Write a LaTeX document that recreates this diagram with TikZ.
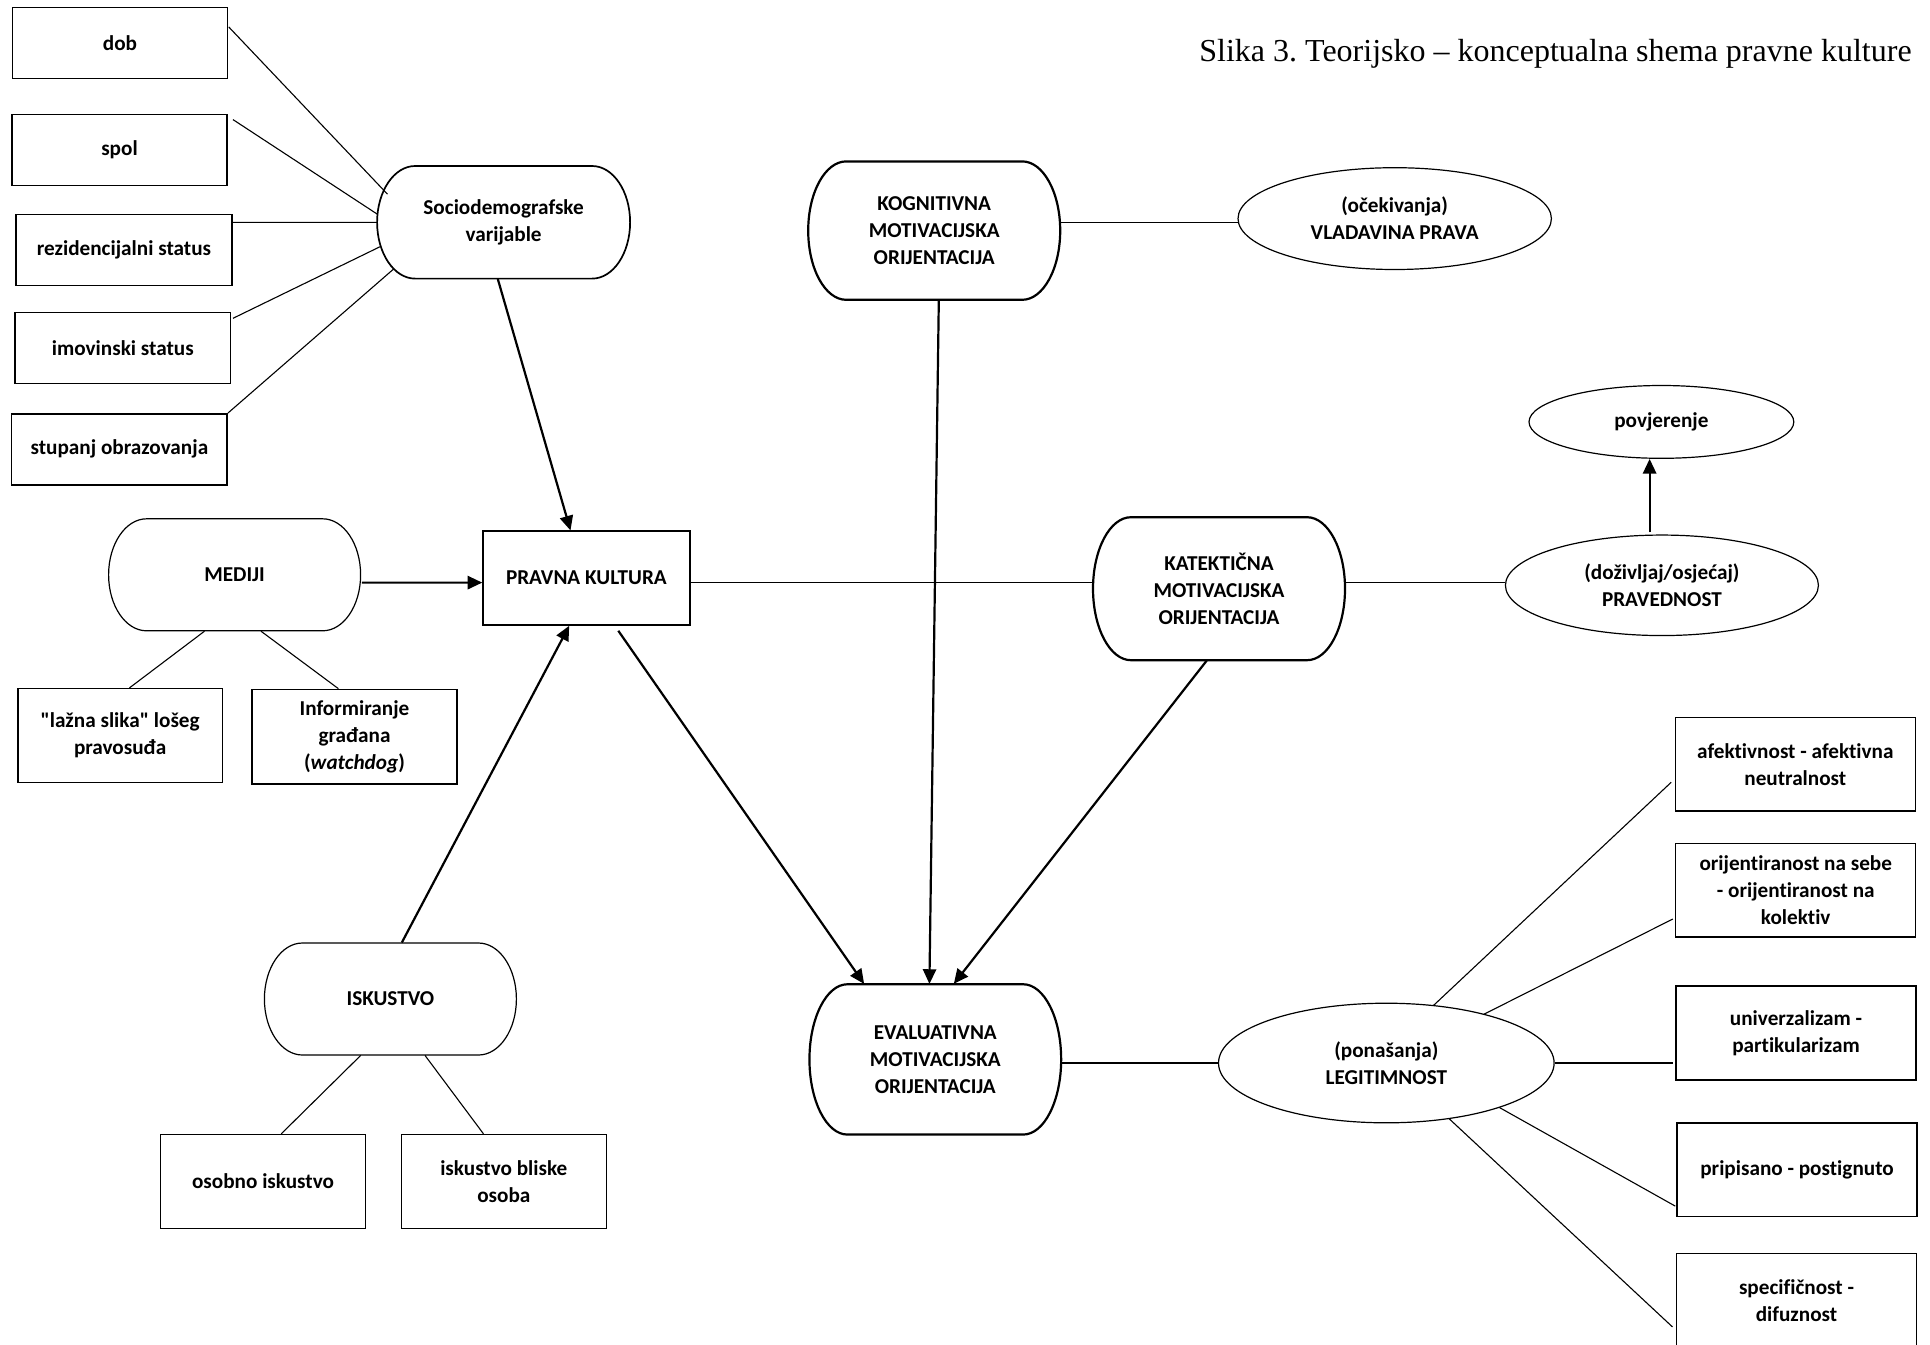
\documentclass[tikz,border=0pt]{standalone}
\usepackage{fontspec}
\setmainfont{Carlito}[Ligatures={TeXOff,CommonOff}]
\newfontfamily\titlefont{Liberation Serif}
\usetikzlibrary{calc,arrows.meta,shapes.geometric}
\frenchspacing
\tikzset{
  lbl/.style={font=\fontsize{10.6}{13.5}\selectfont\bfseries, align=center, inner sep=0pt},
  box/.style={lbl, draw, line width=0.75pt, rectangle},
  oval/.style={lbl, draw, line width=0.6pt, ellipse},
  conn/.style={line width=0.55pt},
  arr/.style={line width=1.1pt, -{Triangle[length=7.3pt,width=6.6pt]}},
  thinpill/.style={line width=0.6pt},
  midpill/.style={line width=0.85pt},
  thickpill/.style={line width=1.1pt},
}
% #1 style, #2 name, #3 x, #4 y, #5 width, #6 height, #7 text
\newcommand\pillnode[7]{%
  \node[lbl, minimum width=#5*0.5pt, minimum height=#6*0.5pt] (#2) at (#3,#4) {#7};
  \draw[#1] (#3-#5/2+38,#4+#6/2) -- (#3+#5/2-38,#4+#6/2)
     arc[start angle=90,end angle=-90,x radius=38,y radius=#6/2]
     -- (#3-#5/2+38,#4-#6/2)
     arc[start angle=270,end angle=90,x radius=38,y radius=#6/2] -- cycle;
}
\begin{document}
\begin{tikzpicture}[x=0.5pt,y=0.5pt]
\useasboundingbox (0,0) rectangle (1930,-1344);
\clip (0,0) rectangle (1930,-1344);

\node[anchor=base east, inner sep=0pt, font=\titlefont\fontsize{16}{19}\selectfont] (title) at (1912,-61.5) {Slika 3. Teorijsko – konceptualna shema pravne kulture};

% left boxes
\node[box, minimum width=107.5pt, minimum height=35.5pt] (dob) at (120,-43) {dob};
\node[box, minimum width=107.5pt, minimum height=35.5pt] (spol) at (119.5,-150) {spol};
\node[box, minimum width=107.9pt, minimum height=35.3pt] (rezid) at (124,-250) {rezidencijalni status};
\node[box, minimum width=107.6pt, minimum height=35.5pt] (imov) at (122.8,-348) {imovinski status};
\node[box, minimum width=107.8pt, minimum height=35.5pt] (stup) at (119.4,-449.3) {stupanj obrazovanja};

\node[box, minimum width=102.2pt, minimum height=47pt] (lazna) at (120.1,-735.6) {"lažna slika" lošeg\\pravosuđa};
\node[box, minimum width=102.3pt, minimum height=47.3pt] (inform) at (354.5,-736.7) {Informiranje\\građana\\(\textit{watchdog})};
\node[box, minimum width=102.3pt, minimum height=47pt] (osobno) at (263,-1181.6) {osobno iskustvo};
\node[box, minimum width=102.5pt, minimum height=47pt] (bliske) at (503.8,-1181.6) {iskustvo bliske\\osoba};
\node[box, minimum width=103.4pt, minimum height=46.9pt] (pravna) at (586.4,-578.1) {PRAVNA KULTURA};

% right boxes
\node[box, minimum width=120pt, minimum height=46.8pt] (afekt) at (1795.3,-764.3) {afektivnost - afektivna\\neutralnost};
\node[box, minimum width=120pt, minimum height=46.8pt] (orijent) at (1795.7,-890.4) {orijentiranost na sebe\\- orijentiranost na\\kolektiv};
\node[box, minimum width=120pt, minimum height=46.9pt] (univ) at (1796,-1032.9) {univerzalizam -\\partikularizam};
\node[box, minimum width=120pt, minimum height=46.9pt] (pripis) at (1797,-1169.7) {pripisano - postignuto};
\node[box, minimum width=120pt, minimum height=46.9pt] (specif) at (1796.5,-1300.6) {specifičnost -\\difuznost};

% rounded nodes
\pillnode{midpill}{socio}{503.6}{-222.3}{253}{112.6}{Sociodemografske\\varijable}
\pillnode{thinpill}{mediji}{234.6}{-574.8}{252}{112}{MEDIJI}
\pillnode{thinpill}{iskustvo}{390.4}{-999}{252}{112}{ISKUSTVO}
\pillnode{thickpill}{kogn}{934.2}{-230.6}{252}{138.4}{KOGNITIVNA\\MOTIVACIJSKA\\ORIJENTACIJA}
\pillnode{thickpill}{katek}{1219}{-588.7}{252}{143}{KATEKTIČNA\\MOTIVACIJSKA\\ORIJENTACIJA}
\pillnode{thickpill}{eval}{935.3}{-1059.4}{251.7}{150.3}{EVALUATIVNA\\MOTIVACIJSKA\\ORIJENTACIJA}

% ellipses
\node[oval, minimum width=156.7pt, minimum height=50.9pt] (vlad) at (1394.7,-218.6) {(očekivanja)\\VLADAVINA PRAVA};
\node[oval, minimum width=132.4pt, minimum height=36.4pt] (povj) at (1661.4,-421.9) {povjerenje};
\node[oval, minimum width=156.5pt, minimum height=50.25pt] (praved) at (1661.9,-585.3) {(doživljaj/osjećaj)\\PRAVEDNOST};
\node[oval, minimum width=167.8pt, minimum height=59.8pt] (legit) at (1386.3,-1063) {(ponašanja)\\LEGITIMNOST};

% connectors to socio
\draw[conn] ($(dob.north east)+(0.5,-20.2)$) -- ($(socio.center)+(-116.1,28.1)$);
\draw[conn] ($(spol.center)+(113.5,30.4)$) -- ($(socio.center)+(-126.1,8)$);
\draw[conn] ($(rezid.center)+(109,27.7)$) -- ($(socio.center)+(-126.5,0)$);
\draw[conn] ($(imov.center)+(110.2,29.7)$) -- ($(socio.center)+(-122.9,-24.1)$);
\draw[conn] (stup.north east) -- ($(socio.center)+(-110.2,-46.9)$);

% arrows into PRAVNA KULTURA
\draw[arr] ($(socio.south)+(-5.8,0)$) -- ($(pravna.north)+(-15.9,0)$);
\draw[arr] ($(mediji.east)+(0.9,-7.8)$) -- ($(pravna.west)+(0,-4.5)$);
\draw[arr] ($(iskustvo.north)+(11.4,0)$) -- ($(pravna.south)+(-17.2,0)$);

% mediji / iskustvo children
\draw[conn] ($(mediji.south)+(-30.1,0)$) -- ($(lazna.north)+(9.4,0)$);
\draw[conn] ($(mediji.south)+(26.4,0)$) -- ($(inform.north)+(-16.1,0)$);
\draw[conn] ($(iskustvo.south)+(-29.7,0)$) -- ($(osobno.north)+(18.2,0)$);
\draw[conn] ($(iskustvo.south)+(34.6,0)$) -- ($(bliske.north)+(-20.3,0)$);

% arrows into EVALUATIVNA
\draw[arr] ($(pravna.south)+(31.9,-5)$) -- ($(eval.north)+(-71.2,0)$);
\draw[arr] ($(kogn.south)+(4.6,0)$) -- ($(eval.north)+(-5.9,0)$);
\draw[arr] ($(katek.south)+(-12.3,0)$) -- ($(eval.north)+(18.5,0)$);

% horizontal links
\draw[conn] ($(kogn.east)+(0,8)$) -- ($(vlad.west)+(0.5,-4)$);
\draw[conn] ($(pravna.east)+(0,-4.8)$) -- ($(katek.west)+(0,5.8)$);
\draw[conn] ($(katek.east)+(0,5.8)$) -- ($(praved.west)+(0.3,2.4)$);
\draw[arr] ($(praved.north)+(-12.3,2)$) -- ($(povj.south)+(-11.8,0)$);
\draw[conn] ($(eval.east)+(0,-3.6)$) -- (legit.west);

% legitimnost children
\draw[conn] ($(legit.center)+(47,57.4)$) -- ($(afekt.west)+(-3.4,-18)$);
\draw[conn] ($(legit.center)+(97.5,48.7)$) -- ($(orijent.west)+(-2.2,-28.6)$);
\draw[conn] (legit.east) -- ($(univ.west)+(-2,-30.1)$);
\draw[conn] ($(legit.center)+(113.1,-44.5)$) -- ($(pripis.west)+(-1,-36.4)$);
\draw[conn] ($(legit.center)+(62.6,-55.5)$) -- ($(specif.west)+(-3.3,-26.3)$);
\end{tikzpicture}
\end{document}
